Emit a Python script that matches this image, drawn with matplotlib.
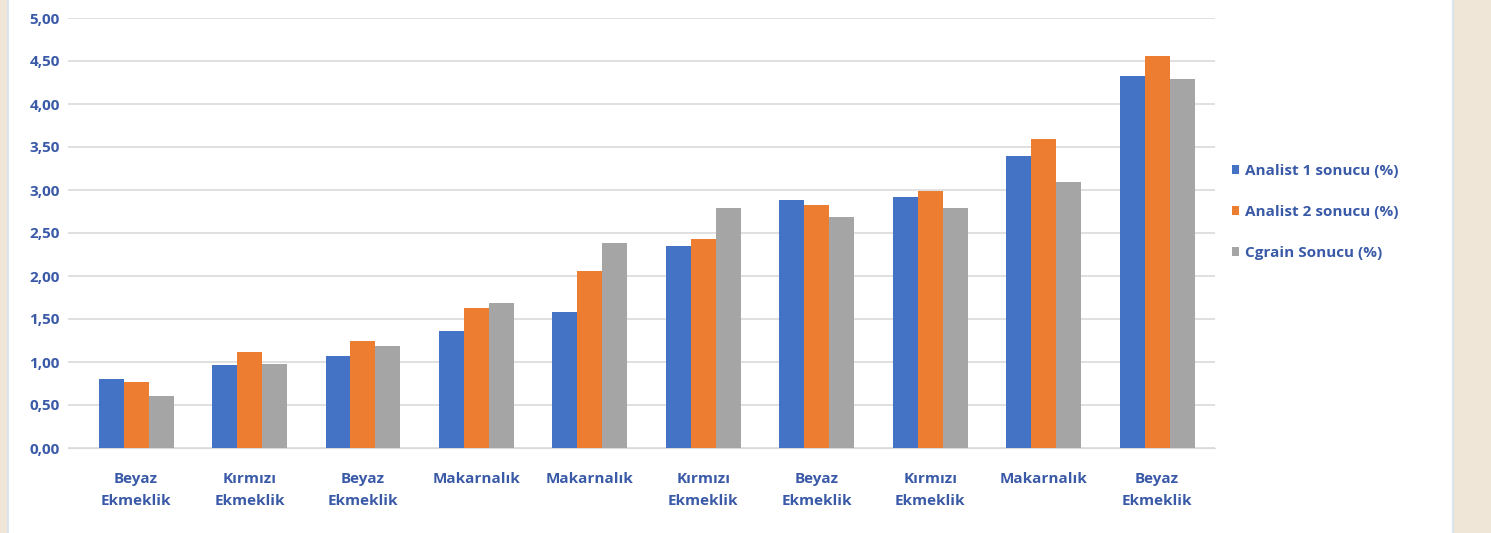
import matplotlib
matplotlib.use("Agg")
import matplotlib.pyplot as plt
import numpy as np
from matplotlib.patches import Rectangle

categories = ["Beyaz\nEkmeklik", "Kırmızı\nEkmeklik", "Beyaz\nEkmeklik", "Makarnalık", "Makarnalık",
              "Kırmızı\nEkmeklik", "Beyaz\nEkmeklik", "Kırmızı\nEkmeklik", "Makarnalık", "Beyaz\nEkmeklik"]
analist1 = [0.80, 0.97, 1.07, 1.36, 1.58, 2.35, 2.88, 2.92, 3.40, 4.33]
analist2 = [0.77, 1.12, 1.24, 1.63, 2.06, 2.43, 2.83, 2.99, 3.59, 4.56]
cgrain = [0.60, 0.98, 1.19, 1.69, 2.38, 2.79, 2.69, 2.79, 3.09, 4.29]
series_names = ["Analist 1 sonucu (%)", "Analist 2 sonucu (%)", "Cgrain Sonucu (%)"]
colors = ["#4472C4", "#ED7D31", "#A5A5A5"]
yticks = [0, 0.5, 1.0, 1.5, 2.0, 2.5, 3.0, 3.5, 4.0, 4.5, 5.0]

text_color = "#3A5AA8"
plt.rcParams['font.family'] = ['Open Sans', 'DejaVu Sans']

fig = plt.figure(figsize=(14.91, 5.33), dpi=100)
fig.patch.set_facecolor("#EFE6D8")

bg = fig.add_axes([0, 0, 1, 1], zorder=-10)
bg.set_axis_off()
bg.set_xlim(0, 1)
bg.set_ylim(0, 1)
bg.add_patch(Rectangle((8/1491, -0.01), (1453-8)/1491, 1.02,
                       facecolor="white", edgecolor="#D5E0F0", linewidth=1.2))

ax = fig.add_axes([68/1491, 1-448/533, (1215-68)/1491, (448-18)/533], zorder=1)
ax.set_facecolor("none")
x = np.arange(len(categories))
w = 0.22
for i, (vals, name, c) in enumerate(zip([analist1, analist2, cgrain], series_names, colors)):
    ax.bar(x + (i-1)*w, vals, width=w, color=c, label=name, zorder=3)

ax.set_ylim(0, 5)
ax.set_xlim(-0.6, 9.51)
ax.set_yticks(yticks)
ax.set_yticklabels([f"{v:.2f}".replace(".", ",") for v in yticks])
ax.set_xticks(x)
ax.set_xticklabels(categories, linespacing=1.75)
ax.grid(axis='y', color="#DADADA", linewidth=1.2, zorder=0)
for s in ["top", "right", "left"]:
    ax.spines[s].set_visible(False)
ax.spines["bottom"].set_color("#D9D9D9")
ax.tick_params(axis='both', length=0, colors=text_color, labelsize=11)
ax.tick_params(axis='x', pad=17)
ax.tick_params(axis='y', pad=6)
for lab in ax.get_xticklabels() + ax.get_yticklabels():
    lab.set_fontweight("bold")
    lab.set_color(text_color)

leg = ax.legend(loc="center left", bbox_to_anchor=(1218/1491, 1-212/533), bbox_transform=fig.transFigure,
                frameon=False, handlelength=0.5, handleheight=0.5, handletextpad=0.35,
                labelspacing=1.75, prop={'size': 11, 'weight': 'bold'})
for t in leg.get_texts():
    t.set_color(text_color)

fig.savefig("out.png", dpi=100, facecolor=fig.get_facecolor())
